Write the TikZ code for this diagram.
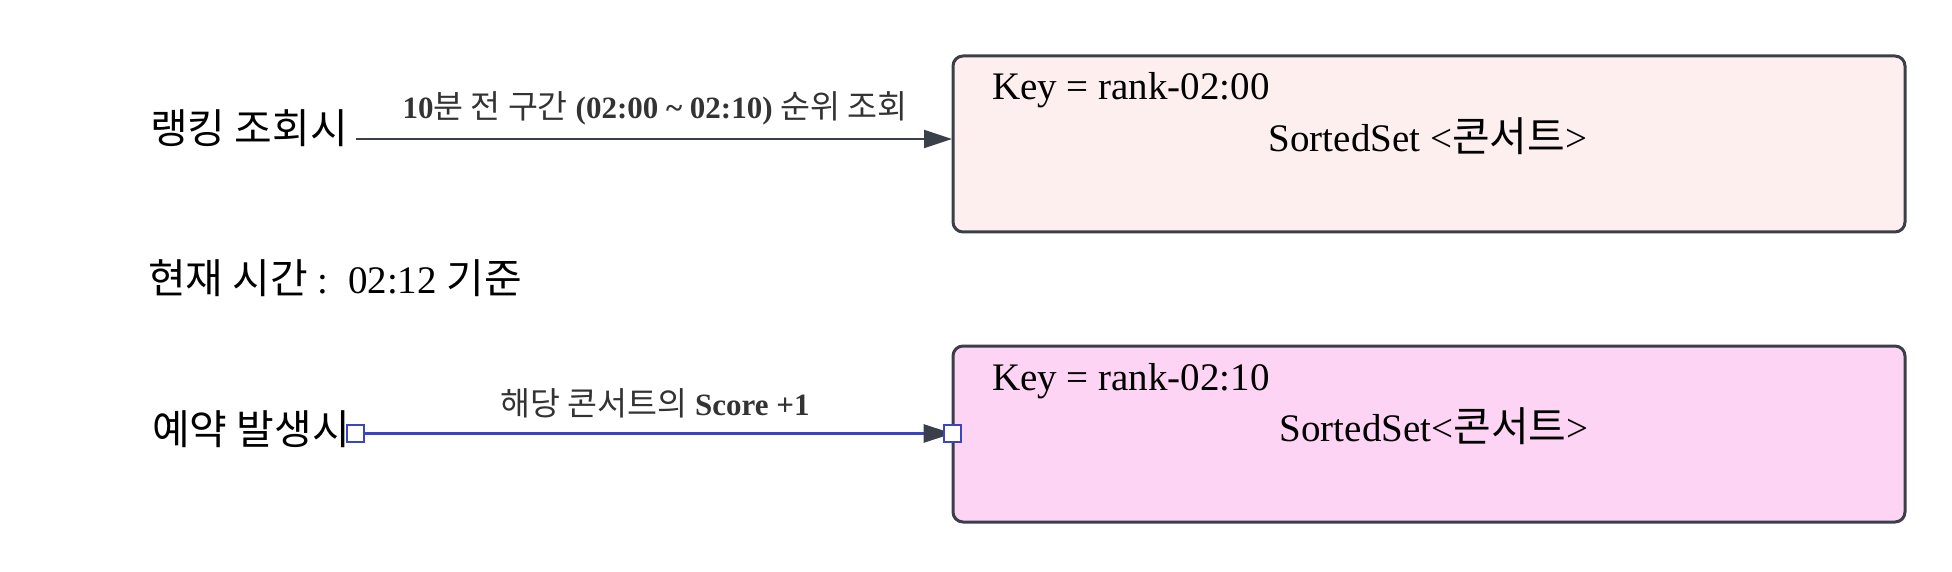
\documentclass[tikz,border=0pt]{standalone}
\usepackage{fontspec}
\setmainfont{Liberation Serif}
\newfontfamily\krfont[Scale=1.05]{Noto Sans CJK KR}
\newcommand\kor[1]{{\krfont\mdseries #1}}
\usetikzlibrary{arrows.meta}
\pgfdeclarelayer{bg}
\pgfsetlayers{bg,main}
\definecolor{edgec}{HTML}{3A3F4A}
\definecolor{pinkA}{HTML}{FDEFEE}
\definecolor{pinkB}{HTML}{FDD4F4}
\definecolor{bluec}{HTML}{3B45C4}
\definecolor{labc}{HTML}{333333}
\tikzset{
  keybox/.style={draw=edgec, line width=3pt, rounded corners=10pt, minimum width=952pt, minimum height=176pt, inner sep=0pt},
  maintext/.style={inner sep=0pt, font=\fontsize{39}{45}\selectfont, text=black},
  labtext/.style={inner sep=0pt, font=\fontsize{31}{36}\selectfont\bfseries, text=labc},
  conn/.style={draw=edgec, line width=2pt, -{Triangle[length=28pt,width=18pt]}},
  bconn/.style={draw=bluec, line width=3pt, -{Triangle[length=29pt,width=18pt,color=edgec]}},
  sqnode/.style={draw=bluec, line width=2pt, fill=white, minimum size=17pt, inner sep=0pt}
}
\begin{document}
\begin{tikzpicture}[x=1pt,y=-1pt]
\useasboundingbox (0,0) rectangle (1952,572);
% boxes
\node[keybox, fill=pinkA] (b1) at (1429,144) {};
\node[keybox, fill=pinkB] (b2) at (1429,434) {};
\node[maintext, anchor=base west] (k1) at (992,100) {Key = rank-02:00};
\node[maintext, anchor=base] (s1) at (1428,152) {SortedSet <\kor{콘서트}>};
\node[maintext, anchor=base west] (k2) at (992,390) {Key = rank-02:10};
\node[maintext, anchor=base] (s2) at (1434,441) {SortedSet<\kor{콘서트}>};
% left texts
\node[maintext, anchor=base west] (r1) at (150,144) {\kor{랭킹 조회시}};
\node[maintext, anchor=base west] (now) at (148,293) {\kor{현재 시간} :\ \ 02:12 \kor{기준}};
\node[maintext, anchor=base west] (r2) at (152,444) {\kor{예약 발생시}};
% connector 1
\coordinate (a1s) at (356,139);
\coordinate (a1e) at (952,139);
\draw[conn] (a1s) -- (a1e);
\node[labtext, anchor=base] (l1) at (655,119) {10\kor{분 전 구간} (02:00 \textasciitilde{} 02:10) \kor{순위 조회}};
% connector 2
\node[sqnode] (sq1) at (355.5,433.5) {};
\node[sqnode] (sq2) at (952.5,433.5) {};
\begin{pgfonlayer}{bg}
\draw[bconn] (sq1.east) -- (sq2.center);
\end{pgfonlayer}
\node[labtext, anchor=base] (l2) at (655,415) {\kor{해당 콘서트의} Score +1};
\end{tikzpicture}
\end{document}
